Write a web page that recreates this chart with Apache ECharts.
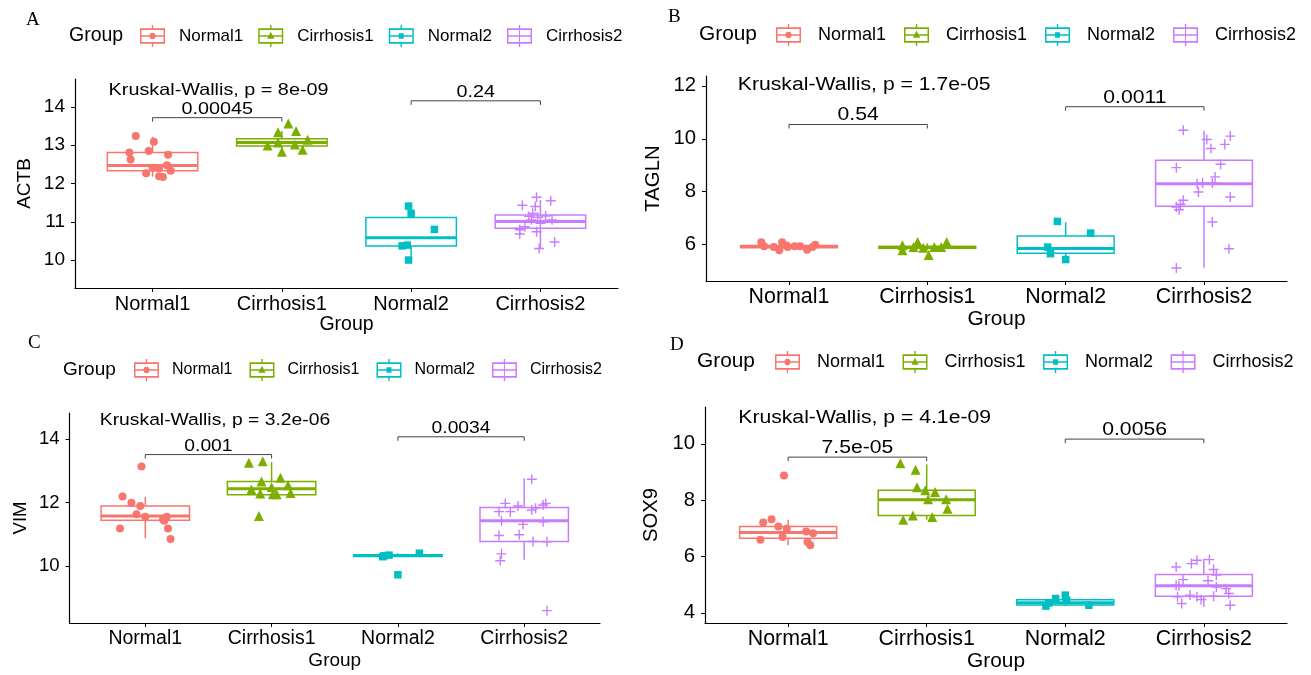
<!DOCTYPE html>
<html lang="en">
<head>
    <meta charset="UTF-8">
    <title>Kruskal-Wallis boxplots</title>
    <script src="https://cdn.jsdelivr.net/npm/echarts@6/dist/echarts.min.js"></script>
    <style>html,body{margin:0;padding:0;background:#fff}</style>
</head>
<body>
<div id="container" style="width:1311px;height:675px"></div>
<script type="text/javascript">
    // groups / colours shared by all four panels
    var groups = ['Normal1', 'Cirrhosis1', 'Normal2', 'Cirrhosis2'];
    var colors = ['#F8766D', '#7CAE00', '#00BFC4', '#C77CFF'];

    // box stats per group: [lower whisker, Q1, median, Q3, upper whisker]
    var actbBox = [[12.18, 12.33, 12.47, 12.81, 13.22], [12.83, 12.98, 13.07, 13.17, 13.37], [10.0, 10.37, 10.58, 11.11, 11.41], [10.31, 10.83, 11.01, 11.18, 11.57]];
    var taglnBox = [[5.79, 5.89, 5.93, 5.97, 6.09], [5.79, 5.87, 5.90, 5.93, 6.05], [5.44, 5.68, 5.86, 6.33, 6.85], [5.13, 7.45, 8.30, 9.19, 10.30]];
    var vimBox = [[10.87, 11.44, 11.57, 11.89, 12.17], [12.24, 12.24, 12.43, 12.66, 13.27], [10.29, 10.30, 10.33, 10.35, 10.40], [10.19, 10.77, 11.42, 11.84, 12.76]];
    var sox9Box = [[6.40, 6.65, 6.85, 7.07, 7.31], [7.31, 7.46, 8.02, 8.35, 9.27], [4.24, 4.28, 4.36, 4.47, 4.63], [4.21, 4.59, 4.96, 5.36, 5.93]];

    // jittered points per group: [horizontal jitter, value]
    var actbJitter = [
        [[-0.13, 13.24], [0.01, 13.09], [-0.18, 12.81], [-0.03, 12.85], [0.12, 12.75], [-0.17, 12.63], [0.11, 12.48], [0.0, 12.41], [0.05, 12.40], [-0.05, 12.27], [0.14, 12.33], [0.05, 12.19], [0.08, 12.17]],
        [[0.05, 13.57], [-0.03, 13.34], [0.11, 13.37], [-0.11, 12.99], [-0.03, 13.07], [0.0, 12.83], [0.1, 13.02], [0.16, 12.88], [0.2, 13.14]],
        [[-0.02, 11.41], [0.0, 11.22], [0.18, 10.80], [-0.07, 10.37], [-0.03, 10.39], [-0.02, 10.0]],
        [[-0.14, 11.43], [-0.03, 11.64], [0.08, 11.55], [-0.04, 11.40], [-0.06, 11.22], [-0.09, 11.14], [-0.02, 11.12], [0.04, 11.15], [0.09, 11.05], [-0.12, 10.87], [-0.16, 10.79], [-0.16, 10.68], [-0.03, 10.74], [0.11, 10.47], [-0.01, 10.30], [0.0, 10.96], [-0.07, 11.05]]
    ];
    var taglnJitter = [
        [[-0.2, 6.09], [-0.05, 6.09], [-0.07, 5.79], [-0.11, 5.91], [-0.01, 5.91], [0.13, 5.81], [0.19, 6.0], [-0.18, 5.94], [0.04, 5.94], [0.08, 5.94], [0.17, 5.91], [-0.02, 5.97]],
        [[-0.18, 5.98], [-0.18, 5.79], [-0.07, 6.10], [-0.1, 5.91], [0.01, 5.61], [0.14, 6.10], [0.05, 5.91], [0.1, 5.91], [-0.03, 5.89]],
        [[-0.06, 6.88], [0.18, 6.44], [-0.13, 5.91], [-0.11, 5.66], [0.0, 5.44]],
        [[-0.15, 10.32], [0.02, 9.97], [0.05, 9.63], [0.19, 10.10], [0.15, 9.79], [0.12, 9.04], [-0.2, 8.91], [0.08, 8.56], [-0.01, 8.33], [-0.04, 7.99], [0.06, 8.33], [-0.05, 8.30], [0.19, 7.80], [-0.15, 7.68], [-0.17, 7.53], [-0.18, 7.32], [-0.2, 7.42], [0.06, 6.86], [0.18, 5.85], [-0.2, 5.12]]
    ];
    var vimJitter = [
        [[-0.03, 13.13], [-0.18, 12.19], [-0.11, 11.99], [-0.04, 11.89], [-0.07, 11.63], [0.0, 11.55], [0.14, 11.46], [0.17, 11.55], [0.15, 11.42], [-0.2, 11.18], [0.18, 11.18], [0.2, 10.85]],
        [[-0.18, 13.25], [-0.07, 13.30], [0.07, 12.78], [-0.08, 12.66], [0.0, 12.49], [0.13, 12.54], [-0.16, 12.41], [-0.09, 12.28], [0.01, 12.26], [0.04, 12.26], [0.15, 12.30], [-0.1, 11.57]],
        [[-0.12, 10.29], [-0.07, 10.34], [0.17, 10.40], [0.0, 9.72], [-0.11, 10.32]],
        [[0.06, 12.73], [-0.15, 11.97], [-0.05, 11.89], [0.06, 11.76], [0.17, 11.97], [-0.2, 11.71], [-0.11, 11.71], [0.15, 11.92], [-0.18, 11.42], [-0.01, 11.31], [0.15, 11.39], [-0.2, 10.96], [-0.04, 10.98], [0.07, 10.77], [0.18, 10.76], [-0.18, 10.38], [-0.19, 10.16], [0.18, 8.59], [0.09, 11.82]]
    ];
    var sox9Jitter = [
        [[-0.03, 8.88], [-0.18, 7.21], [-0.12, 7.32], [-0.07, 7.07], [-0.01, 6.99], [0.13, 6.89], [0.18, 6.83], [-0.04, 6.69], [-0.2, 6.60], [0.14, 6.52], [0.16, 6.40]],
        [[-0.19, 9.31], [-0.08, 9.08], [-0.07, 8.46], [-0.01, 8.35], [0.06, 8.29], [0.01, 8.03], [0.14, 8.03], [0.15, 7.70], [-0.17, 7.31], [-0.1, 7.46], [0.04, 7.40]],
        [[0.0, 4.63], [-0.07, 4.51], [-0.12, 4.35], [-0.14, 4.24], [0.17, 4.27], [0.01, 4.45]],
        [[-0.2, 5.63], [-0.05, 5.87], [0.04, 5.89], [0.07, 5.54], [0.09, 5.34], [-0.15, 5.18], [0.03, 5.14], [0.09, 4.92], [-0.2, 4.98], [-0.18, 4.95], [-0.1, 4.63], [-0.05, 4.57], [-0.19, 4.57], [0.07, 4.59], [0.18, 4.69], [0.19, 4.27], [-0.16, 4.33], [-0.02, 4.47], [0.16, 4.86], [-0.09, 5.75]]
    ];

    // y axis ranges and tick labels
    var actbRange = [9.27, 14.73], actbTicks = [10, 11, 12, 13, 14];
    var taglnRange = [4.63, 12.37], taglnTicks = [6, 8, 10, 12];
    var vimRange = [8.2, 14.82], vimTicks = [10, 12, 14];
    var sox9Range = [3.64, 11.31], sox9Ticks = [4, 6, 8, 10];

    // pairwise comparison brackets (1 vs 2, 3 vs 4): height and p value
    var actbBracketY = [13.72, 14.16], actbP = ['0.00045', '0.24'];
    var taglnBracketY = [10.54, 11.21], taglnP = ['0.54', '0.0011'];
    var vimBracketY = [13.51, 14.07], vimP = ['0.001', '0.0034'];
    var sox9BracketY = [9.53, 10.17], sox9P = ['7.5e-05', '0.0056'];

    // global test label: [x, y] and text
    var actbKW = [0.66, 14.44], actbKWText = 'Kruskal-Wallis, p = 8e-09';
    var taglnKW = [0.63, 12.03], taglnKWText = 'Kruskal-Wallis, p = 1.7e-05';
    var vimKW = [0.64, 14.58], vimKWText = 'Kruskal-Wallis, p = 3.2e-06';
    var sox9KW = [0.64, 10.90], sox9KWText = 'Kruskal-Wallis, p = 4.1e-09';

    var FONT = '"Liberation Sans", Arial, Helvetica, sans-serif';
    var SERIF = '"Liberation Serif", "Times New Roman", serif';

    var panels = [
        {tag: 'A', gene: 'ACTB', box: actbBox, jitter: actbJitter, range: actbRange, ticks: actbTicks, bracketY: actbBracketY, p: actbP, kw: actbKW, kwText: actbKWText},
        {tag: 'B', gene: 'TAGLN', box: taglnBox, jitter: taglnJitter, range: taglnRange, ticks: taglnTicks, bracketY: taglnBracketY, p: taglnP, kw: taglnKW, kwText: taglnKWText},
        {tag: 'C', gene: 'VIM', box: vimBox, jitter: vimJitter, range: vimRange, ticks: vimTicks, bracketY: vimBracketY, p: vimP, kw: vimKW, kwText: vimKWText},
        {tag: 'D', gene: 'SOX9', box: sox9Box, jitter: sox9Jitter, range: sox9Range, ticks: sox9Ticks, bracketY: sox9BracketY, p: sox9P, kw: sox9KW, kwText: sox9KWText}
    ];

    // layout of each panel (pixels)
    var layout = [
        {grid: {left: 75, top: 79, width: 543, height: 209}, s: 1.0, tagPos: [26, 11], groupPos: [69, 26], leg: {left: 140, top: 25, font: 17, pad: 9, gap: 15}, xGap: 27, yGap: 41},
        {grid: {left: 706, top: 76, width: 581, height: 205}, s: 1.07, tagPos: [668, 8], groupPos: [699, 24], leg: {left: 776, top: 24, font: 18, pad: 12, gap: 18}, xGap: 25, yGap: 43},
        {grid: {left: 69.5, top: 413, width: 530.5, height: 210}, s: 0.975, tagPos: [28, 334], groupPos: [63, 360], leg: {left: 134, top: 359, font: 16, pad: 8, gap: 17}, xGap: 28, yGap: 39},
        {grid: {left: 705, top: 407, width: 582, height: 216}, s: 1.07, tagPos: [670, 336], groupPos: [697, 351], leg: {left: 775, top: 351, font: 18, pad: 12, gap: 17.5}, xGap: 28, yGap: 44}
    ];

    var crossPath = 'path://M5,0V10M0,5H10';
    var symbols = ['circle', 'triangle', 'rect', crossPath];
    var symbolSizes = [8, 10, 7.5, 10];

    // legend keys: box with whiskers plus the point shape
    var keyBox = 'M0,3H25V17H0Z M1.5,4.5V15.5H23.5V4.5Z M11.8,0H13.2V3H11.8Z M11.8,17H13.2V20H11.8Z M1.5,9.3H23.5V10.7H1.5Z ';
    var keyShapes = [
        'M9.5,10A3,3 0 1,1 15.5,10A3,3 0 1,1 9.5,10Z',
        'M8.8,12.6L12.5,6.2L16.2,12.6Z',
        'M10,7.5H15V12.5H10Z',
        'M12,4.5H13V15.5H12Z M7,9.5H18V10.5H7Z'
    ];

    function boxRenderer(color) {
        return function (params, api) {
            var x = api.value(0);
            var lo = api.value(1), q1 = api.value(2), md = api.value(3), q3 = api.value(4), hi = api.value(5);
            var tl = api.coord([x - 0.35, q3]);
            var br = api.coord([x + 0.35, q1]);
            var top = api.coord([x, hi]);
            var bot = api.coord([x, lo]);
            var mL = api.coord([x - 0.35, md]);
            var mR = api.coord([x + 0.35, md]);
            var thin = {stroke: color, lineWidth: 1.5};
            return {
                type: 'group',
                children: [
                    {type: 'line', shape: {x1: top[0], y1: top[1], x2: top[0], y2: tl[1]}, style: thin},
                    {type: 'line', shape: {x1: bot[0], y1: br[1], x2: bot[0], y2: bot[1]}, style: thin},
                    {type: 'rect', shape: {x: tl[0], y: tl[1], width: br[0] - tl[0], height: br[1] - tl[1]}, style: {fill: '#fff', stroke: color, lineWidth: 1.5}},
                    {type: 'line', shape: {x1: mL[0], y1: mL[1], x2: mR[0], y2: mR[1]}, style: {stroke: color, lineWidth: 3}}
                ]
            };
        };
    }

    var option = {
        backgroundColor: '#fff',
        animation: false,
        title: [], legend: [], grid: [], xAxis: [], yAxis: [], series: []
    };

    panels.forEach(function (p, i) {
        var L = layout[i], s = L.s;
        option.grid.push(L.grid);
        option.title.push({text: p.tag, left: L.tagPos[0], top: L.tagPos[1], padding: 0,
            textStyle: {fontFamily: SERIF, fontWeight: 'normal', fontSize: 19, color: '#000'}});
        option.title.push({text: 'Group', left: L.groupPos[0], top: L.groupPos[1], padding: 0,
            textStyle: {fontFamily: FONT, fontWeight: 'normal', fontSize: 19.5 * s, color: '#000'}});
        option.legend.push({
            left: L.leg.left, top: L.leg.top, padding: 0, itemWidth: 25, itemHeight: 22, itemGap: L.leg.gap,
            symbolKeepAspect: false,
            textStyle: {fontFamily: FONT, fontSize: L.leg.font, color: '#000', padding: [0, 0, 0, L.leg.pad]},
            data: groups.map(function (g, k) {
                return {name: g, icon: 'path://' + keyBox + keyShapes[k], itemStyle: {color: colors[k], borderWidth: 0, opacity: 1}};
            })
        });
        option.xAxis.push({
            type: 'value', gridIndex: i, min: 0.4, max: 4.6,
            name: 'Group', nameLocation: 'middle', nameGap: L.xGap,
            nameTextStyle: {fontFamily: FONT, fontSize: 19.5 * s, color: '#000'},
            axisLine: {lineStyle: {color: '#000', width: 1.2}},
            axisTick: {length: 4, customValues: [1, 2, 3, 4], lineStyle: {color: '#000', width: 1}},
            axisLabel: {customValues: [1, 2, 3, 4], margin: 6, fontFamily: FONT, fontSize: 20 * s, color: '#000',
                formatter: function (v) { return groups[Math.round(v) - 1]; }},
            splitLine: {show: false}
        });
        option.yAxis.push({
            type: 'value', gridIndex: i, min: p.range[0], max: p.range[1],
            name: p.gene, nameLocation: 'middle', nameGap: L.yGap,
            nameTextStyle: {fontFamily: FONT, fontSize: 19 * s, color: '#000'},
            axisLine: {show: true, lineStyle: {color: '#000', width: 1.2}},
            axisTick: {show: true, length: 4, customValues: p.ticks, lineStyle: {color: '#000', width: 1}},
            axisLabel: {customValues: p.ticks, margin: 10, fontFamily: FONT, fontSize: 19 * s, color: '#000'},
            splitLine: {show: false}
        });

        groups.forEach(function (g, k) {
            option.series.push({
                type: 'custom', name: g, xAxisIndex: i, yAxisIndex: i, silent: true, z: 2,
                encode: {x: 0, y: [1, 2, 3, 4, 5]},
                data: [[k + 1].concat(p.box[k])],
                renderItem: boxRenderer(colors[k])
            });
        });
        groups.forEach(function (g, k) {
            var style = k === 3
                ? {color: 'rgba(0,0,0,0)', borderColor: colors[k], borderWidth: 1.4, opacity: 1}
                : {color: colors[k], opacity: 1};
            option.series.push({
                type: 'scatter', name: g, xAxisIndex: i, yAxisIndex: i, silent: true, z: 3,
                symbol: symbols[k], symbolSize: symbolSizes[k], itemStyle: style,
                data: p.jitter[k].map(function (d) { return [k + 1 + d[0], d[1]]; })
            });
        });

        // comparison brackets
        option.series.push({
            type: 'custom', xAxisIndex: i, yAxisIndex: i, silent: true, z: 4,
            encode: {x: [0, 1], y: 2},
            data: p.bracketY.map(function (y, k) { return [2 * k + 1, 2 * k + 2, y]; }),
            renderItem: function (params, api) {
                var a = api.coord([api.value(0), api.value(2)]);
                var b = api.coord([api.value(1), api.value(2)]);
                return {
                    type: 'group',
                    children: [
                        {type: 'polyline', shape: {points: [[a[0], a[1] + 4], a, b, [b[0], b[1] + 4]]},
                            style: {stroke: '#444', lineWidth: 1, fill: null}},
                        {type: 'text', x: (a[0] + b[0]) / 2, y: a[1], scaleX: 1.2,
                            style: {text: p.p[params.dataIndex], fontFamily: FONT, fontSize: 16.5 * s, fill: '#000',
                                align: 'center', verticalAlign: 'bottom'}}
                    ]
                };
            }
        });
        // global test label
        option.series.push({
            type: 'custom', xAxisIndex: i, yAxisIndex: i, silent: true, z: 4,
            data: [p.kw],
            renderItem: function (params, api) {
                var c = api.coord([api.value(0), api.value(1)]);
                return {type: 'text', x: c[0], y: c[1], scaleX: 1.2,
                    style: {text: p.kwText, fontFamily: FONT, fontSize: 16.5 * s, fill: '#000', align: 'left', verticalAlign: 'middle'}};
            }
        });
    });

    var dom = document.getElementById('container');
    var myChart = echarts.init(dom);
    myChart.setOption(option, true);
</script>
</body>
</html>
